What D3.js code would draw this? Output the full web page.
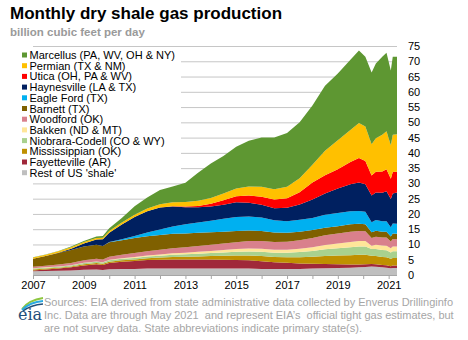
<!DOCTYPE html>
<html lang="en">
<head>
<meta charset="UTF-8">
<title>Monthly dry shale gas production</title>
<script src="https://cdn.jsdelivr.net/npm/d3@7"></script>
<style>
  body { margin: 0; background: #fff; }
  svg { display: block; font-family: "Liberation Sans", Arial, sans-serif; }
  .grid line { stroke: #c6c6c6; }
  .grid path { display: none; }
  .legend text { font-size: 11px; fill: #000; }
  .axis text { font-size: 11px; fill: #000; }
  .source { font-size: 11px; fill: #a6a6a6; }
</style>
</head>
<body>
<script>
// sample dates (monthly series)
const months = ["2007-01","2007-07","2008-01","2008-07","2009-01","2009-07","2009-10","2010-01","2010-07","2011-01",
  "2011-07","2012-01","2012-07","2013-01","2013-07","2014-01","2014-07","2015-01","2015-07","2016-01",
  "2016-07","2017-01","2017-07","2018-01","2018-07","2019-01","2019-07","2019-11","2020-02","2020-05",
  "2020-07","2020-10","2020-12","2021-02","2021-03","2021-05"];

// billion cubic feet per day, by play
const rest = [1.2,1.3,1.4,1.5,1.7,1.8,1.6,1.9,2.0,2.0, 2.1,2.1,2.1,2.1,2.1,2.1,2.1,2.1,2.1,2.0, 2.0,2.0,2.0,2.1,2.2,2.3,2.4,2.5,2.6,2.8, 2.7,2.5,2.4,2.2,2.3,2.3];
const fayetteville = [0.3,0.5,0.7,1.0,1.4,1.7,1.7,2.0,2.3,2.6, 2.8,2.9,3.0,3.0,3.0,3.0,2.9,2.8,2.7,2.5, 2.2,2.0,1.8,1.6,1.4,1.2,1.0,0.9,0.9,0.8, 0.8,0.8,0.8,0.7,0.8,0.8];
const mississippian = [0.3,0.3,0.3,0.3,0.4,0.4,0.4,0.4,0.5,0.5, 0.6,0.7,0.8,0.9,1.0,1.1,1.3,1.5,1.6,1.7, 1.7,1.8,2.0,2.3,2.6,2.9,3.1,3.2,3.1,2.7, 2.7,2.6,2.6,2.4,2.5,2.5];
const niobrara = [0.3,0.3,0.3,0.3,0.4,0.4,0.4,0.5,0.5,0.5, 0.6,0.6,0.7,0.8,0.9,1.0,1.1,1.2,1.3,1.4, 1.4,1.5,1.7,1.9,2.2,2.4,2.6,2.7,2.7,2.2, 2.3,2.3,2.3,2.1,2.2,2.2];
const bakken = [0.1,0.1,0.1,0.1,0.1,0.1,0.1,0.2,0.2,0.3, 0.3,0.4,0.5,0.5,0.6,0.7,0.8,0.9,1.0,1.0, 1.0,1.0,1.1,1.2,1.4,1.5,1.7,1.8,1.8,1.1, 1.4,1.5,1.5,1.4,1.5,1.5];
const woodford = [0.5,0.5,0.6,0.7,0.8,0.9,0.9,1.0,1.1,1.3, 1.4,1.6,1.7,1.8,1.9,2.0,2.1,2.2,2.4,2.5, 2.5,2.6,2.8,3.0,3.2,3.3,3.4,3.3,3.2,2.5, 2.6,2.6,2.7,2.2,2.5,2.4];
const barnett = [2.6,3.2,3.8,4.3,4.5,4.6,4.4,4.7,4.8,4.9, 4.9,4.8,4.7,4.5,4.3,4.1,3.9,3.7,3.5,3.3, 3.1,2.9,2.8,2.6,2.5,2.4,2.4,2.4,2.3,1.9, 2.0,1.9,1.9,1.6,1.8,1.8];
const eagleFord = [0,0,0,0,0,0,0,0.1,0.3,0.7, 1.2,1.8,2.4,3.0,3.4,3.8,4.2,4.6,4.6,4.4, 4.0,3.8,3.9,4.0,4.2,4.3,4.3,4.2,4.1,3.3, 3.5,3.4,3.4,3.0,3.3,3.3];
const haynesville = [0,0,0.1,0.4,1.0,1.7,2.2,3.0,4.8,6.2, 7.0,7.2,6.5,5.6,5.0,4.6,4.6,4.8,4.5,4.2, 4.0,4.4,5.0,6.0,7.0,8.0,8.8,9.3,9.0,8.7, 9.0,9.3,9.8,9.3,9.8,10.2];
const utica = [0,0,0,0,0,0,0,0,0,0, 0,0,0.1,0.2,0.4,0.9,1.5,2.0,2.3,2.6, 2.8,3.1,4.0,5.6,6.0,6.3,7.3,8.0,7.6,6.6, 6.8,7.0,7.2,6.6,7.0,6.8];
const permian = [0.4,0.4,0.5,0.5,0.5,0.5,0.5,0.6,0.7,0.7, 0.9,1.1,1.3,1.5,1.7,1.9,2.2,2.5,3.0,3.3, 3.4,3.8,4.6,5.8,8.0,9.5,10.5,11.5,11.3,10.2, 11.0,12.0,12.5,11.0,12.2,12.3];
const marcellus = [0.1,0.1,0.1,0.2,0.3,0.5,0.6,0.9,1.5,2.8, 3.6,4.6,5.2,6.3,9.2,11.3,12.3,13.7,15.0,16.1, 16.9,17.6,18.3,19.4,21.3,21.9,23.0,23.7,22.9,23.5, 24.5,25.6,25.7,24.5,25.6,25.4];

// bottom to top
const seriesNames = ["Rest of US 'shale'", "Fayetteville (AR)", "Mississippian (OK)", "Niobrara-Codell (CO & WY)",
  "Bakken (ND & MT)", "Woodford (OK)", "Barnett (TX)", "Eagle Ford (TX)", "Haynesville (LA & TX)",
  "Utica (OH, PA & WV)", "Permian (TX & NM)", "Marcellus (PA, WV, OH & NY)"];
const seriesValues = [rest, fayetteville, mississippian, niobrara, bakken, woodford, barnett, eagleFord,
  haynesville, utica, permian, marcellus];
const colors = ["#bfbfbf", "#a0283a", "#bf9000", "#a9d18e", "#ffe699", "#d9808c", "#7f6000", "#00b0f0",
  "#002060", "#ff0000", "#ffc000", "#5e9732"];
const yTicks = d3.range(0, 80, 5);

const W = 468, H = 340;
const plotLeft = 33, plotRight = 397, plotTop = 46, plotBottom = 275;

const parse = d3.timeParse("%Y-%m");
const table = months.map((m, i) => {
  const row = { date: parse(m) };
  seriesNames.forEach((name, k) => row[name] = seriesValues[k][i]);
  return row;
});

const svg = d3.select("body").append("svg")
  .attr("width", W)
  .attr("height", H);

const x = d3.scaleTime([parse("2007-01"), parse("2021-05")], [plotLeft, plotRight]);
const y = d3.scaleLinear([0, 75], [plotBottom, plotTop]);

// title
svg.append("text")
  .attr("x", 10).attr("y", 19)
  .style("font-size", "17px").style("font-weight", "bold")
  .text("Monthly dry shale gas production");
svg.append("text")
  .attr("x", 10).attr("y", 36)
  .style("font-size", "11.5px").style("font-weight", "bold").style("fill", "#9a9a9a")
  .text("billion cubic feet per day");

// gridlines
svg.append("g")
  .attr("class", "grid")
  .attr("transform", `translate(${plotLeft},0)`)
  .call(d3.axisRight(y).tickValues(yTicks.slice(1)).tickSize(plotRight - plotLeft).tickFormat(""));

// stacked areas
const stack = d3.stack().keys(seriesNames);
const layers = stack(table);
const area = d3.area()
  .x(d => x(d.data.date))
  .y0(d => y(d[0]))
  .y1(d => y(d[1]));

svg.append("g").selectAll("path")
  .data(layers)
  .join("path")
  .attr("fill", (d, i) => colors[i])
  .attr("d", area);

// x axis
const xAxis = svg.append("g")
  .attr("class", "axis")
  .attr("transform", `translate(0,${plotBottom})`)
  .call(d3.axisBottom(x)
    .ticks(d3.timeYear.every(1))
    .tickSize(4)
    .tickPadding(2)
    .tickFormat(d => d.getFullYear() % 2 === 1 ? d.getFullYear() : ""));
xAxis.select(".domain").attr("stroke", "#a6a6a6").attr("d", `M${plotLeft},0.5H${plotRight}`);
xAxis.selectAll(".tick line").attr("stroke", "#a6a6a6");

// y labels on the right
const yAxis = svg.append("g")
  .attr("class", "axis")
  .attr("transform", `translate(408,0)`)
  .call(d3.axisRight(y).tickValues(yTicks).tickSize(0).tickPadding(0));
yAxis.select(".domain").remove();

// legend
const legend = svg.append("g").attr("class", "legend");
legend.append("rect")
  .attr("x", 19).attr("y", 49).attr("width", 162).attr("height", 129)
  .attr("fill", "#fff");
const legendItems = seriesNames.map((n, i) => ({ name: n, color: colors[i] })).reverse();
legendItems.forEach((d, i) => {
  const ly = 55 + i * 10.7;
  legend.append("rect")
    .attr("x", 22).attr("y", ly - 2.5).attr("width", 5).attr("height", 5)
    .attr("fill", d.color);
  legend.append("text")
    .attr("x", 29.5).attr("y", ly + 4)
    .text(d.name);
});

// eia logo
const logo = svg.append("g");
logo.append("path").attr("d", "M22,309 Q29,300 43,298").attr("fill", "none").attr("stroke", "#8dc63f").attr("stroke-width", 1.8);
logo.append("path").attr("d", "M22,310 Q30,302 43,301").attr("fill", "none").attr("stroke", "#29a9e0").attr("stroke-width", 1.8);
logo.append("path").attr("d", "M23,311 Q31,305 43,304").attr("fill", "none").attr("stroke", "#1f4e79").attr("stroke-width", 1.3);
logo.append("text")
  .attr("x", 18).attr("y", 320)
  .style("font-family", "'DejaVu Serif', serif").style("font-size", "16px").style("fill", "#1f4e79")
  .text("eia");

// source note
const notes = [
  "Sources: EIA derived from state administrative data collected by Enverus Drillinginfo",
  "Inc. Data are through May 2021  and represent EIA\u2019s  official tight gas estimates, but",
  "are not survey data. State abbreviations indicate primary state(s)."
];
svg.append("text")
  .attr("class", "source")
  .attr("x", 44).attr("y", 306)
  .style("white-space", "pre")
  .selectAll("tspan")
  .data(notes)
  .join("tspan")
  .attr("x", 44)
  .attr("dy", (d, i) => i === 0 ? 0 : 13)
  .text(d => d);
</script>
</body>
</html>
